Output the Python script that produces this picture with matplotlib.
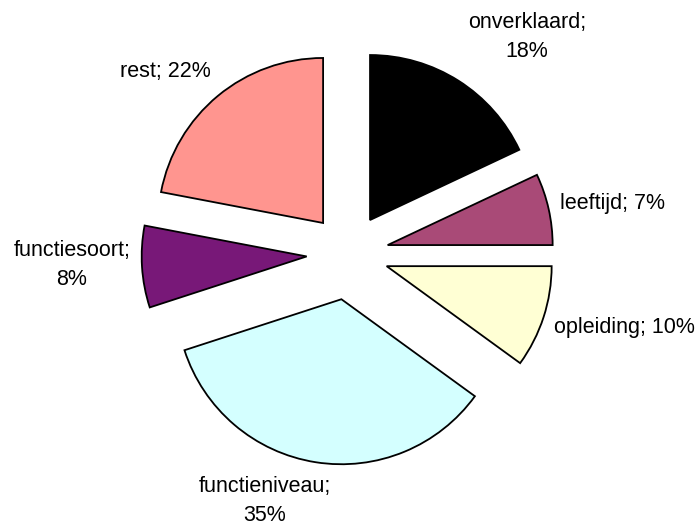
import matplotlib.pyplot as plt

labels = ["onverklaard", "leeftijd", "opleiding", "functieniveau", "functiesoort", "rest"]
shares = [18, 7, 10, 35, 8, 22]
colors = ["#000000", "#A94A77", "#FFFFD4", "#D4FFFF", "#781878", "#FF958F"]
label_texts = ["onverklaard;\n18%", "leeftijd; 7%", "opleiding; 10%",
               "functieniveau;\n35%", "functiesoort;\n8%", "rest; 22%"]
# label positions in pixels (x, y from top)
label_pos = [(527, 37), (613, 203), (624, 328), (265, 501), (72, 265), (165, 71)]

W, H = 696, 525
fig = plt.figure(figsize=(W / 100, H / 100), dpi=100)
ax = fig.add_axes([0, 0, 1, 1])

# explode is in data units here (pixels), since radius is given in pixels
wedges, texts = ax.pie(shares, colors=colors, startangle=90, counterclock=False,
                       explode=[40, 40, 40, 46, 42, 40], radius=165,
                       center=(348.6, H - 253.8), labels=label_texts,
                       wedgeprops=dict(edgecolor="black", linewidth=1.3),
                       textprops=dict(fontsize=15.5, family="Liberation Sans"),
                       frame=True)
ax.axis("off")
ax.set_xlim(0, W)
ax.set_ylim(0, H)
ax.set_aspect("equal")

for t, (x, y) in zip(texts, label_pos):
    t.set_position((x, H - y))
    t.set_ha("center")
    t.set_va("center")
    t.set_multialignment("center")
    t.set_linespacing(1.45)

fig.savefig("out.png", dpi=100)
